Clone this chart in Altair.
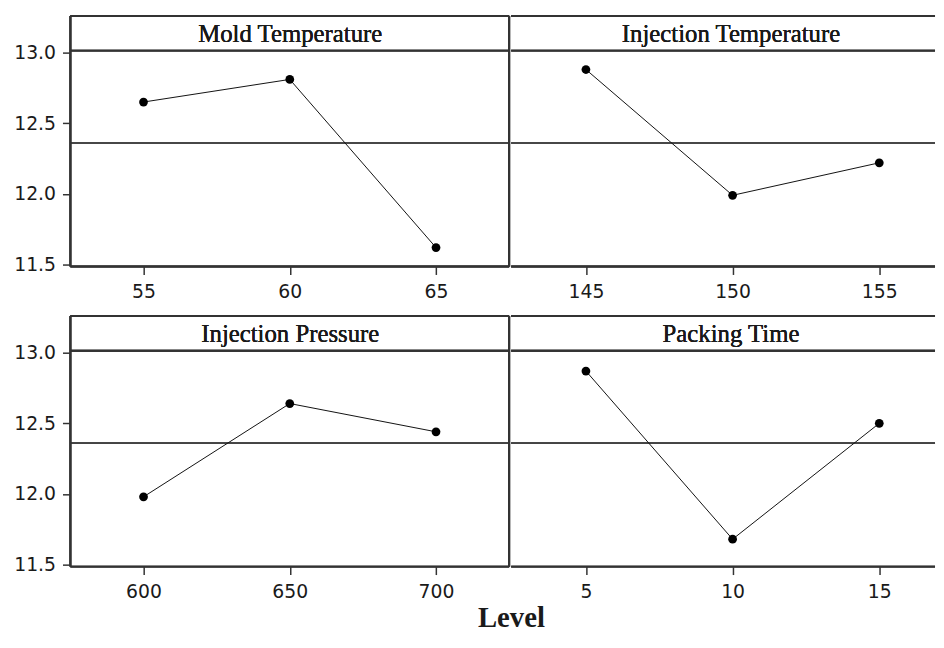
import altair as alt
import pandas as pd

factors = ["Mold Temperature", "Injection Temperature", "Injection Pressure", "Packing Time"]
levels = [[55, 60, 65], [145, 150, 155], [600, 650, 700], [5, 10, 15]]
means = [
    [12.65, 12.81, 11.62],
    [12.88, 11.99, 12.22],
    [11.98, 12.64, 12.44],
    [12.87, 11.68, 12.50],
]
grand_mean = 12.36
y_ticks = [11.5, 12.0, 12.5, 13.0]
x_title = "Level"

H = 253
W_LEFT = 443
W_RIGHT = 428
FRAME = "#333333"
TXT = "#1a1a1a"
Y_DOMAIN = [11.486, 13.259]


def panel(i, left):
    lv = levels[i]
    step = lv[1] - lv[0]
    if left:
        w = W_LEFT
        dom = [lv[0] - 0.5 * step, lv[-1] + 0.5 * step]
    else:
        w = W_RIGHT
        dom = [lv[0] - 0.51 * step, lv[-1] + 0.38 * step]
    df = pd.DataFrame({"level": lv, "mean": means[i], "gm": [grand_mean] * len(lv)})
    x = alt.X(
        "level:Q",
        scale=alt.Scale(domain=dom, nice=False, zero=False),
        axis=alt.Axis(values=lv, format="d", title=None, grid=False, domain=False,
                      tickSize=8, tickWidth=1.5, tickColor=FRAME,
                      labelFont="DejaVu Sans", labelFontSize=19, labelColor=TXT,
                      labelPadding=8),
    )
    if left:
        yax = alt.Axis(values=y_ticks, format=".1f", title=None, grid=False, domain=False,
                       tickSize=8, tickWidth=1.5, tickColor=FRAME,
                       labelFont="DejaVu Sans", labelFontSize=19, labelColor=TXT,
                       labelPadding=7)
    else:
        yax = None
    ysc = alt.Scale(domain=Y_DOMAIN, nice=False, zero=False)
    y = alt.Y("mean:Q", scale=ysc, axis=yax)
    base = alt.Chart(df)
    line = base.mark_line(color="#111111", strokeWidth=1).encode(x=x, y=y)
    pts = base.mark_circle(size=78, color="#000000", opacity=1).encode(x=x, y=y)
    mean_rule = base.mark_rule(color="#444444", strokeWidth=1.6).encode(
        y=alt.Y("gm:Q", scale=ysc, axis=yax))
    hdr_line = base.mark_rule(color=FRAME, strokeWidth=2).encode(
        x=alt.value(0), x2=alt.value(w), y=alt.value(35))
    hdr_text = base.mark_text(text=factors[i], font="Liberation Serif", fontSize=25,
                              fontWeight="normal", color=TXT, baseline="middle",
                              align="center").encode(x=alt.value(222), y=alt.value(18))
    top = base.mark_rule(color=FRAME, strokeWidth=2).encode(
        x=alt.value(0), x2=alt.value(w), y=alt.value(0))
    bottom = base.mark_rule(color=FRAME, strokeWidth=2).encode(
        x=alt.value(0), x2=alt.value(w), y=alt.value(H))
    layers = [mean_rule, line, pts, hdr_line, hdr_text, top, bottom]
    if left:
        lft = base.mark_rule(color=FRAME, strokeWidth=2).encode(
            x=alt.value(0), y=alt.value(0), y2=alt.value(H))
        rgt = base.mark_rule(color=FRAME, strokeWidth=2).encode(
            x=alt.value(w), y=alt.value(0), y2=alt.value(H))
        layers += [lft, rgt]
    return alt.layer(*layers).properties(width=w, height=H)


row1 = alt.hconcat(panel(0, True), panel(1, False), spacing=0)
row2 = alt.hconcat(panel(2, True), panel(3, False), spacing=0)

chart = alt.vconcat(row1, row2, spacing=14).properties(
    title=alt.TitleParams(x_title, orient="bottom", anchor="middle",
                          font="Liberation Serif", fontSize=29, fontWeight="bold",
                          color=TXT, offset=3, dx=37),
    padding={"left": 5, "top": 4, "right": 0, "bottom": 0},
    background="white",
).configure_view(strokeWidth=0)

chart.save("out.html", embed_options={"renderer": "svg", "actions": False})
